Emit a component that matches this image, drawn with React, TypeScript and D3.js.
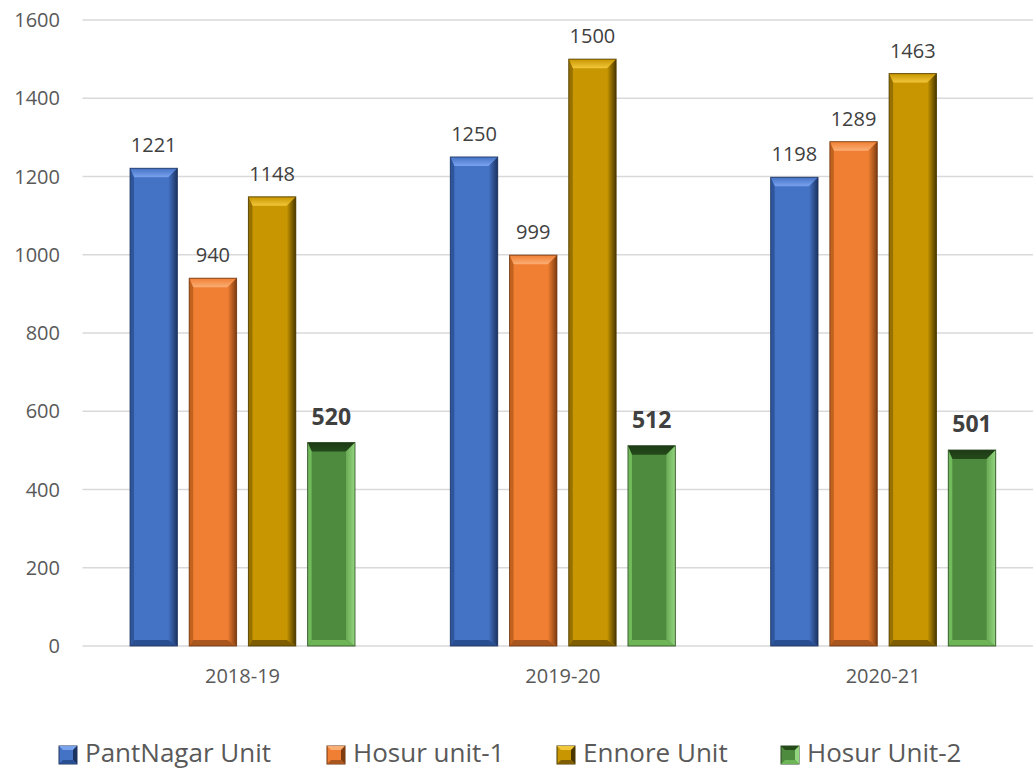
import React from "react";
import * as d3 from "d3";

const categories = ["2018-19", "2019-20", "2020-21"];
const seriesNames = ["PantNagar Unit", "Hosur unit-1", "Ennore Unit", "Hosur Unit-2"];
const pantnagar = [1221, 1250, 1198];
const hosur1 = [940, 999, 1289];
const ennore = [1148, 1500, 1463];
const hosur2 = [520, 512, 501];
const yTicks = [0, 200, 400, 600, 800, 1000, 1200, 1400, 1600];

const seriesValues = [pantnagar, hosur1, ennore, hosur2];

const palettes = [
  { base: "#4472C4", top: "#7AA3EE", left: "#2E569C", right: "#1B3260", bottom: "#2A4E92", stroke: "#22365e" },
  { base: "#F07F33", top: "#FBAE74", left: "#C2621F", right: "#7E3C0F", bottom: "#A9561F", stroke: "#6a3410" },
  { base: "#C79600", top: "#F2C73A", left: "#977100", right: "#4A3700", bottom: "#7E5E00", stroke: "#4a3a00" },
  { base: "#4F8B3F", top: "#244A1A", left: "#72BB5C", right: "#93D57F", bottom: "#6DB556", stroke: "#2c4a22" },
];

const W = 1033;
const H = 770;
const plotLeft = 82.5;
const plotRight = 1043.5;
const yTop = 20;
const yBottom = 646;

export default function App() {
  const x0 = d3.scaleBand<string>().domain(categories).range([plotLeft, plotRight]).padding(0);
  const x1 = d3.scaleBand<string>().domain(seriesNames).range([47.5, 272.5]).paddingInner(0.2).paddingOuter(0);
  const y = d3.scaleLinear().domain([0, 1600]).range([yBottom, yTop]);

  const font = "Open Sans, 'Noto Sans', sans-serif";

  const bars: React.ReactNode[] = [];
  seriesNames.forEach((s, si) => {
    const p = palettes[si];
    categories.forEach((c, ci) => {
      const v = seriesValues[si][ci];
      const x = (x0(c) as number) + (x1(s) as number);
      const w = x1.bandwidth();
      const yt = y(v);
      const h = yBottom - yt;
      const tb = 9, bb = 6, ls = 4, rs = 9;
      const gid = `g-${si}`;
      bars.push(
        <g key={`${si}-${ci}`}>
          <rect x={x} y={yt} width={w} height={h} fill={p.base} />
          <polygon
            points={`${x},${yt} ${x + w},${yt} ${x + w - rs},${yt + tb} ${x + ls},${yt + tb}`}
            fill={`url(#top-${si})`}
          />
          <polygon
            points={`${x},${yt} ${x + ls},${yt + tb} ${x + ls},${yBottom - bb} ${x},${yBottom}`}
            fill={p.left}
          />
          <polygon
            points={`${x + w},${yt} ${x + w},${yBottom} ${x + w - rs},${yBottom - bb} ${x + w - rs},${yt + tb}`}
            fill={`url(#${gid})`}
          />
          <polygon
            points={`${x},${yBottom} ${x + w},${yBottom} ${x + w - rs},${yBottom - bb} ${x + ls},${yBottom - bb}`}
            fill={p.bottom}
          />
          <rect x={x} y={yt} width={w} height={h} fill="none" stroke={p.stroke} strokeWidth={1} strokeOpacity={0.8} />
          <text
            x={x + w / 2}
            y={si === 3 ? yt - 18 : yt - 16}
            textAnchor="middle"
            fontFamily={font}
            fontSize={si === 3 ? 23 : 20}
            fontWeight={si === 3 ? 700 : 400}
            fill="#404040"
          >
            {v}
          </text>
        </g>
      );
    });
  });

  const legendX = [59, 327, 557, 781];

  return (
    <svg width={W} height={H} style={{ position: "absolute", left: 0, top: 0, background: "#fff" }}>
      <defs>
        {palettes.map((p, i) => (
          <linearGradient key={`r${i}`} id={`g-${i}`} x1="0" x2="1" y1="0" y2="0">
            <stop offset="0%" stopColor={i === 3 ? "#6aaa55" : p.base} />
            <stop offset="100%" stopColor={p.right} />
          </linearGradient>
        ))}
        {palettes.map((p, i) => (
          <linearGradient key={`t${i}`} id={`top-${i}`} x1="0" x2="0" y1="0" y2="1">
            <stop offset="0%" stopColor={i === 3 ? "#1d3a15" : p.base} />
            <stop offset="100%" stopColor={p.top} />
          </linearGradient>
        ))}
      </defs>
      {yTicks.map((t) => (
        <g key={t}>
          <line x1={plotLeft} x2={W} y1={y(t)} y2={y(t)} stroke="#d9d9d9" strokeWidth={1.3} />
          <text x={60} y={y(t) + 7} textAnchor="end" fontFamily={font} fontSize={20} fill="#595959">
            {t}
          </text>
        </g>
      ))}
      {bars}
      {categories.map((c) => (
        <text
          key={c}
          x={(x0(c) as number) + 160}
          y={683}
          textAnchor="middle"
          fontFamily={font}
          fontSize={20}
          fill="#595959"
        >
          {c}
        </text>
      ))}
      {seriesNames.map((s, i) => {
        const p = palettes[i];
        const lx = legendX[i];
        const ly = 746;
        const sz = 18;
        return (
          <g key={s}>
            <rect x={lx} y={ly} width={sz} height={sz} fill={p.base} stroke={p.stroke} />
            <polygon points={`${lx},${ly} ${lx + sz},${ly} ${lx + sz - 4},${ly + 4} ${lx + 4},${ly + 4}`} fill={p.top} />
            <polygon points={`${lx + sz},${ly} ${lx + sz},${ly + sz} ${lx + sz - 4},${ly + sz - 4} ${lx + sz - 4},${ly + 4}`} fill={p.right} />
            <polygon points={`${lx},${ly + sz} ${lx + sz},${ly + sz} ${lx + sz - 4},${ly + sz - 4} ${lx + 4},${ly + sz - 4}`} fill={p.bottom} />
            <text x={lx + 26} y={762} fontFamily={font} fontSize={26} fill="#595959">
              {s}
            </text>
          </g>
        );
      })}
    </svg>
  );
}
